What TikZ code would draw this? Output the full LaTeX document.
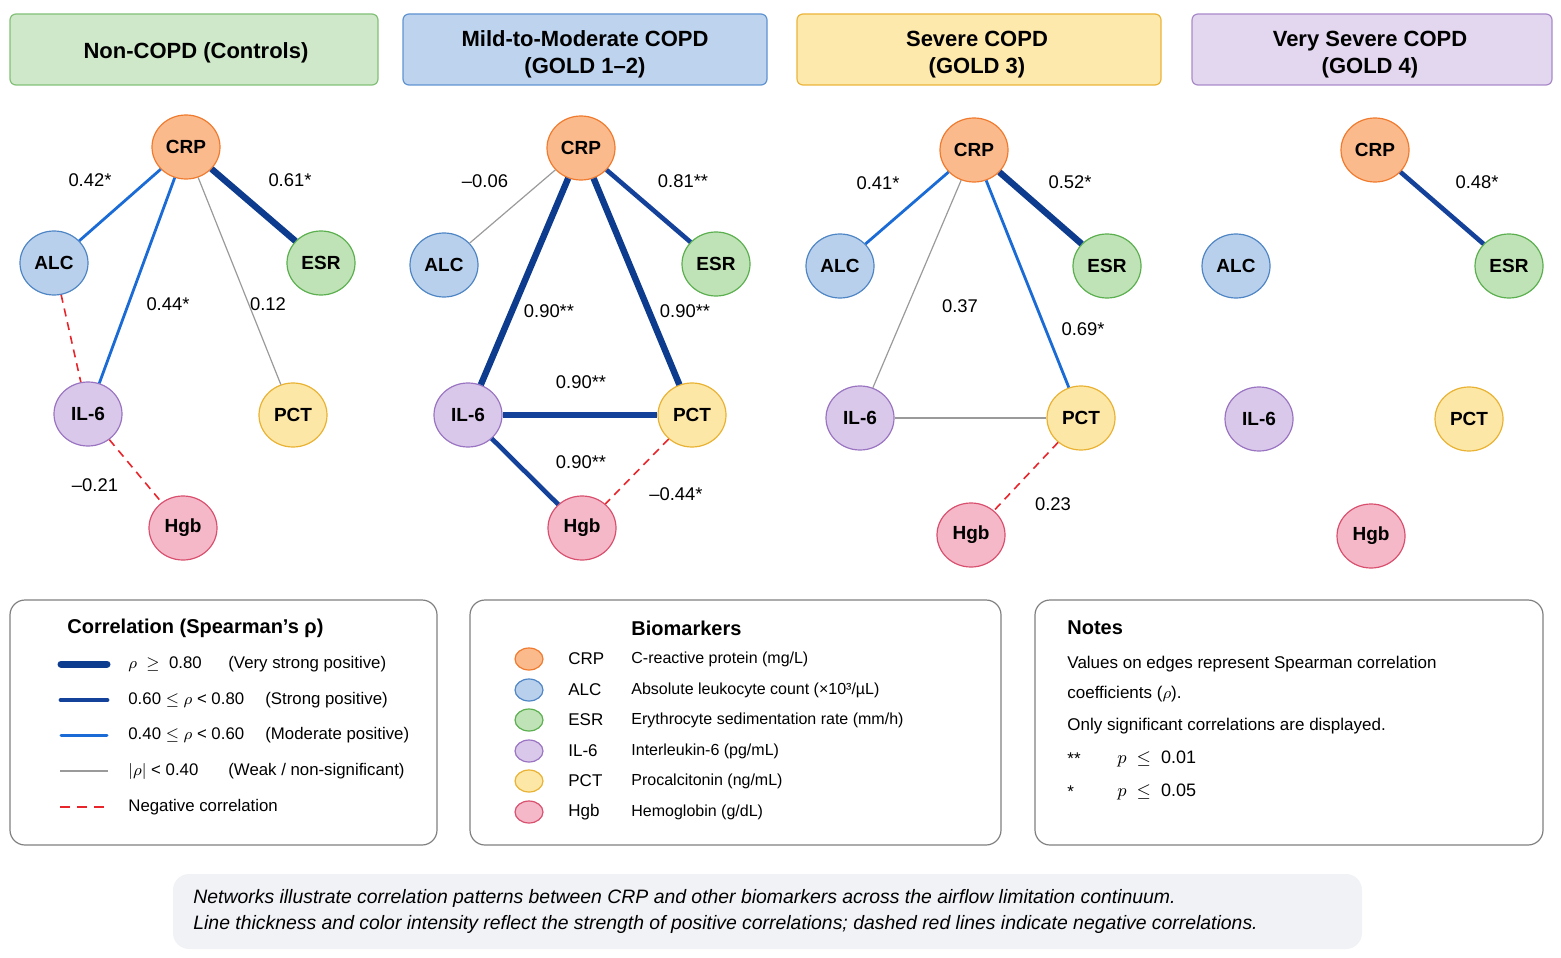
\documentclass[tikz,border=0pt]{standalone}
\usepackage{fontspec}
\setmainfont{Liberation Sans}
\usetikzlibrary{positioning,shapes.geometric}

\definecolor{crpfill}{HTML}{FBBA8C}\definecolor{crpdraw}{HTML}{F07B2E}
\definecolor{alcfill}{HTML}{B9D0EC}\definecolor{alcdraw}{HTML}{4E85C5}
\definecolor{esrfill}{HTML}{BFE3B6}\definecolor{esrdraw}{HTML}{5BAF4F}
\definecolor{ilfill}{HTML}{D9C8EA}\definecolor{ildraw}{HTML}{9A74C2}
\definecolor{pctfill}{HTML}{FDE7A6}\definecolor{pctdraw}{HTML}{E9B233}
\definecolor{hgbfill}{HTML}{F5B8C8}\definecolor{hgbdraw}{HTML}{D9506F}
\definecolor{vstrongc}{HTML}{0D3B8E}
\definecolor{strongc}{HTML}{14419A}
\definecolor{modc}{HTML}{1A6BD6}
\definecolor{weakc}{HTML}{9A9A9A}
\definecolor{negc}{HTML}{E8252B}
\definecolor{capfill}{HTML}{F1F2F6}

\tikzset{
marker/.style={
  ellipse,
  line width=0.6pt,
  inner sep=0pt,
  minimum width=34pt,
  minimum height=32pt,
  font=\fontsize{9.5}{11}\selectfont\bfseries,
  }
}
\tikzset{
hdrbox/.style={
  rounded corners=3pt,
  line width=0.6pt,
  },
hdr/.style={
  align=center,
  inner sep=0pt,
  font=\fontsize{11}{13.5}\selectfont\bfseries,
  }
}
\tikzset{
vstrongline/.style={line width=3.2pt, draw=vstrongc},
strongline/.style={line width=2.3pt, draw=strongc},
modline/.style={line width=1.4pt, draw=modc},
weakline/.style={line width=0.6pt, draw=weakc},
negline/.style={line width=0.8pt, draw=negc, dash pattern=on 4pt off 3pt},
lab/.style={font=\fontsize{9.2}{11}\selectfont, inner sep=0pt},
legbox/.style={draw=gray, rounded corners=7.5pt, line width=0.6pt},
legtxt/.style={anchor=west, inner sep=0pt, font=\fontsize{8}{10}\selectfont},
corrtxt/.style={anchor=west, inner sep=0pt, font=\fontsize{8.4}{10}\selectfont},
legtitle/.style={anchor=west, inner sep=0pt, font=\fontsize{10}{12}\selectfont\bfseries},
notetxt/.style={anchor=west, inner sep=0pt, font=\fontsize{8.5}{10}\selectfont},
keydot/.style={ellipse, minimum width=14pt, minimum height=11pt, line width=0.6pt},
}

\begin{document}
\begin{tikzpicture}[x=0.5pt,y=-0.5pt]
    \useasboundingbox (0,0) rectangle (1561,957);

    % headers
    \path[hdrbox, fill={rgb,255:red,207;green,232;blue,202}, draw={rgb,255:red,130;green,192;blue,119}] (10,14) rectangle (378,85);
    \path[hdrbox, fill={rgb,255:red,189;green,211;blue,238}, draw={rgb,255:red,95;green,147;blue,210}] (403,14) rectangle (767,85);
    \path[hdrbox, fill={rgb,255:red,253;green,233;blue,171}, draw={rgb,255:red,235;green,180;blue,58}] (797,14) rectangle (1161,85);
    \path[hdrbox, fill={rgb,255:red,227;green,214;blue,239}, draw={rgb,255:red,169;green,138;blue,201}] (1192,14) rectangle (1552,85);
    \node[hdr] (hdra) at (196,53) {Non-COPD (Controls)};
    \node[hdr] (hdrb) at (585,54.5) {Mild-to-Moderate COPD\\(GOLD 1--2)};
    \node[hdr] (hdrc) at (977,54.5) {Severe COPD\\(GOLD 3)};
    \node[hdr] (hdrd) at (1370,54.5) {Very Severe COPD\\(GOLD 4)};

    % Non-COPD
    \node[marker, fill=crpfill, draw=crpdraw] (crpa) at (186,147) {CRP};
    \node[marker, fill=alcfill, draw=alcdraw] (alca) at (54,263) {ALC};
    \node[marker, fill=esrfill, draw=esrdraw] (esra) at (321,263) {ESR};
    \node[marker, fill=ilfill, draw=ildraw] (ila) at (88,414) {IL-6};
    \node[marker, fill=pctfill, draw=pctdraw] (pcta) at (293,415) {PCT};
    \node[marker, fill=hgbfill, draw=hgbdraw] (hgba) at (183,528) {Hgb};

    \draw[modline] (crpa) -- (alca);
    \draw[vstrongline] (crpa) -- (esra);
    \draw[modline] (crpa) -- (ila);
    \draw[weakline] (crpa) -- (pcta);
    \draw[negline] (alca) -- (ila);
    \draw[negline] (ila) -- (hgba);
    \node[lab] at (90,180) {0.42*};
    \node[lab] at (290,180) {0.61*};
    \node[lab] at (168,304) {0.44*};
    \node[lab] at (268,304) {0.12};
    \node[lab] at (95,485) {–0.21};

    % Mild-to-Moderate
    \node[marker, fill=crpfill, draw=crpdraw] (crpb) at (581,148) {CRP};
    \node[marker, fill=alcfill, draw=alcdraw] (alcb) at (444,265) {ALC};
    \node[marker, fill=esrfill, draw=esrdraw] (esrb) at (716,264) {ESR};
    \node[marker, fill=ilfill, draw=ildraw] (ilb) at (468,415) {IL-6};
    \node[marker, fill=pctfill, draw=pctdraw] (pctb) at (692,415) {PCT};
    \node[marker, fill=hgbfill, draw=hgbdraw] (hgbb) at (582,528) {Hgb};

    \draw[weakline] (crpb) -- (alcb);
    \draw[strongline] (crpb) -- (esrb);
    \draw[vstrongline] (crpb) -- (ilb);
    \draw[vstrongline] (crpb) -- (pctb);
    \draw[strongline, line width=2.7pt] (ilb) -- (pctb);
    \draw[strongline] (ilb) -- (hgbb);
    \draw[negline] (pctb) -- (hgbb);
    \node[lab] at (485,181) {–0.06};
    \node[lab] at (683,181) {0.81**};
    \node[lab] at (549,311) {0.90**};
    \node[lab] at (685,311) {0.90**};
    \node[lab] at (581,382) {0.90**};
    \node[lab] at (581,462) {0.90**};
    \node[lab] at (676,494) {–0.44*};

    % Severe
    \node[marker, fill=crpfill, draw=crpdraw] (crpc) at (974,150) {CRP};
    \node[marker, fill=alcfill, draw=alcdraw] (alcc) at (840,266) {ALC};
    \node[marker, fill=esrfill, draw=esrdraw] (esrc) at (1107,266) {ESR};
    \node[marker, fill=ilfill, draw=ildraw] (ilc) at (860,418) {IL-6};
    \node[marker, fill=pctfill, draw=pctdraw] (pctc) at (1081,418) {PCT};
    \node[marker, fill=hgbfill, draw=hgbdraw] (hgbc) at (971,535) {Hgb};

    \draw[modline] (crpc) -- (alcc);
    \draw[vstrongline] (crpc) -- (esrc);
    \draw[weakline] (crpc) -- (ilc);
    \draw[modline] (crpc) -- (pctc);
    \draw[weakline] (ilc) -- (pctc);
    \draw[negline] (pctc) -- (hgbc);
    \node[lab] at (878,183) {0.41*};
    \node[lab] at (1070,182) {0.52*};
    \node[lab] at (960,306) {0.37};
    \node[lab] at (1083,329) {0.69*};
    \node[lab] at (1053,504) {0.23};

    % Very Severe
    \node[marker, fill=crpfill, draw=crpdraw] (crpd) at (1375,150) {CRP};
    \node[marker, fill=alcfill, draw=alcdraw] (alcd) at (1236,266) {ALC};
    \node[marker, fill=esrfill, draw=esrdraw] (esrd) at (1509,266) {ESR};
    \node[marker, fill=ilfill, draw=ildraw] (ild) at (1259,419) {IL-6};
    \node[marker, fill=pctfill, draw=pctdraw] (pctd) at (1469,419) {PCT};
    \node[marker, fill=hgbfill, draw=hgbdraw] (hgbd) at (1371,536) {Hgb};

    \draw[strongline] (crpd) -- (esrd);
    \node[lab] at (1477,182) {0.48*};

    % legend: correlation
    \draw[legbox] (10,600) rectangle (437,845);
    \node[legtitle] at (67,628) {Correlation (Spearman’s ρ)};
    \draw[vstrongline, line width=3.5pt, line cap=round] (61,664) -- (107,664);
    \draw[strongline, line width=2.4pt, line cap=round] (61,700) -- (107,700);
    \draw[modline, line width=1.5pt, line cap=round] (61,735) -- (107,735);
    \draw[weakline] (60,771) -- (108,771);
    \draw[negline, dash pattern=on 5pt off 3.5pt] (60,807) -- (108,807);
    \node[corrtxt] at (128,664) {$\rho$ \ $\geq$ \ 0.80};
    \node[corrtxt] at (228,664) {(Very strong positive)};
    \node[corrtxt] at (128,700) {0.60 $\leq$ $\rho$ < 0.80};
    \node[corrtxt] at (265,700) {(Strong positive)};
    \node[corrtxt] at (128,735) {0.40 $\leq$ $\rho$ < 0.60};
    \node[corrtxt] at (265,735) {(Moderate positive)};
    \node[corrtxt] at (128,771) {$|\rho|$ < 0.40};
    \node[corrtxt] at (228,771) {(Weak / non-significant)};
    \node[corrtxt] at (128,807) {Negative correlation};

    % legend: biomarkers
    \draw[legbox] (470,600) rectangle (1001,845);
    \node[legtitle] at (631,628) {Biomarkers};
    \node[keydot, fill=crpfill, draw=crpdraw] (keycrp) at (529,659) {};
    \node[keydot, fill=alcfill, draw=alcdraw] (keyalc) at (529,690) {};
    \node[keydot, fill=esrfill, draw=esrdraw] (keyesr) at (529,720) {};
    \node[keydot, fill=ilfill, draw=ildraw] (keyil) at (529,751) {};
    \node[keydot, fill=pctfill, draw=pctdraw] (keypct) at (529,781) {};
    \node[keydot, fill=hgbfill, draw=hgbdraw] (keyhgb) at (529,812) {};
    \node[notetxt] at (568,659) {CRP};
    \node[notetxt] at (568,690) {ALC};
    \node[notetxt] at (568,720) {ESR};
    \node[notetxt] at (568,751) {IL-6};
    \node[notetxt] at (568,781) {PCT};
    \node[notetxt] at (568,812) {Hgb};
    \node[legtxt] at (631,659) {C-reactive protein (mg/L)};
    \node[legtxt] at (631,690) {Absolute leukocyte count (×10³/µL)};
    \node[legtxt] at (631,720) {Erythrocyte sedimentation rate (mm/h)};
    \node[legtxt] at (631,751) {Interleukin-6 (pg/mL)};
    \node[legtxt] at (631,781) {Procalcitonin (ng/mL)};
    \node[legtxt] at (631,812) {Hemoglobin (g/dL)};

    % notes
    \draw[legbox] (1035,600) rectangle (1543,845);
    \node[legtitle] at (1067,628) {Notes};
    \node[notetxt] at (1067,664) {Values on edges represent Spearman correlation};
    \node[notetxt] at (1067,694) {coefficients ($\rho$).};
    \node[notetxt] at (1067,726) {Only significant correlations are displayed.};
    \node[notetxt] at (1067,759) {**};
    \node[notetxt, font=\fontsize{9}{10}\selectfont] at (1117,759) {$p$ \ $\leq$ \ 0.01};
    \node[notetxt] at (1067,792) {*};
    \node[notetxt, font=\fontsize{9}{10}\selectfont] at (1117,792) {$p$ \ $\leq$ \ 0.05};

    % caption
    \fill[capfill, rounded corners=8pt] (173,874) rectangle (1362,949);
    \node[legtxt, font=\fontsize{9.7}{11}\selectfont\itshape] at (193,898) {Networks illustrate correlation patterns between CRP and other biomarkers across the airflow limitation continuum.};
    \node[legtxt, font=\fontsize{9.7}{11}\selectfont\itshape] at (193,924) {Line thickness and color intensity reflect the strength of positive correlations; dashed red lines indicate negative correlations.};
\end{tikzpicture}
\end{document}
